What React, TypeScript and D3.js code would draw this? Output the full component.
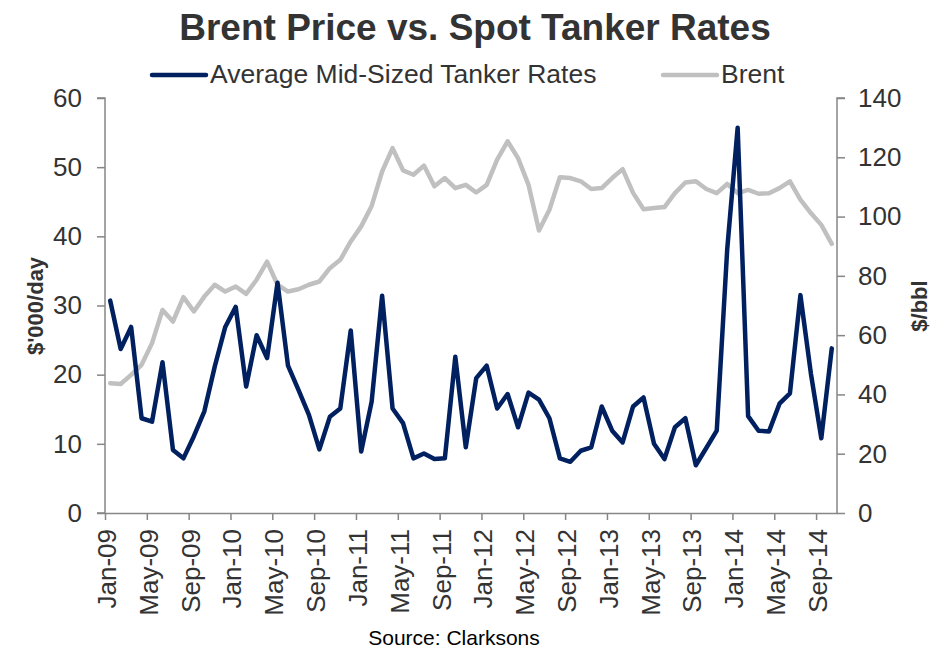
import React, { useEffect, useRef } from 'react';
import * as d3 from 'd3';

// monthly data, Jan-09 .. Oct-14
const tankerRates = [
    30.7, 23.7, 26.9, 13.7, 13.2, 21.8, 9.1, 7.9, 11.1, 14.7, 21.2, 26.9,
    29.8, 18.3, 25.7, 22.4, 33.3, 21.3, 17.8, 14.2, 9.2, 13.9, 15.1, 26.4,
    8.9, 16.1, 31.4, 15.1, 13.0, 7.9, 8.6, 7.8, 7.9, 22.6, 9.5, 19.5,
    21.3, 15.1, 17.2, 12.4, 17.4, 16.4, 13.7, 7.9, 7.4, 9.0, 9.5, 15.4,
    11.9, 10.2, 15.4, 16.7, 10.0, 7.8, 12.4, 13.7, 6.9, 9.4, 11.9, 38.1,
    55.7, 14.0, 11.9, 11.8, 15.8, 17.3, 31.5, 20.2, 10.8, 23.8,
];

const brent = [
    43.8, 43.5, 46.6, 50.0, 57.3, 68.5, 64.6, 72.8, 68.0, 73.0, 77.0, 74.7,
    76.4, 73.9, 78.7, 84.8, 77.0, 74.7, 75.5, 77.0, 78.1, 82.6, 85.4, 91.6,
    96.7, 103.6, 115.2, 123.1, 115.6, 114.1, 117.2, 110.2, 113.0, 109.6, 110.7, 108.1,
    110.7, 119.2, 125.4, 119.7, 110.7, 95.3, 102.3, 113.3, 113.0, 111.9, 109.3, 109.6,
    113.0, 116.0, 108.0, 102.5, 102.9, 103.2, 107.9, 111.5, 111.9, 109.3, 107.9, 111.0,
    107.9, 109.0, 107.7, 107.9, 109.6, 111.9, 105.7, 101.2, 97.2, 90.8,
];

const tickLabels = [
    'Jan-09', 'May-09', 'Sep-09', 'Jan-10', 'May-10', 'Sep-10', 'Jan-11', 'May-11', 'Sep-11',
    'Jan-12', 'May-12', 'Sep-12', 'Jan-13', 'May-13', 'Sep-13', 'Jan-14', 'May-14', 'Sep-14',
];
const monthsPerTick = 4;

const leftTicks = [0, 10, 20, 30, 40, 50, 60];
const rightTicks = [0, 20, 40, 60, 80, 100, 120, 140];

const NAVY = '#002060';
const GREY = '#C0C0C0';
const AXIS = '#868686';
const TEXT = '#333333';
const FONT = '"Liberation Sans", Arial, sans-serif';

const Chart = ({ width, height }) => {
    const chartRef = useRef(null);

    useEffect(() => {
        d3.select(chartRef.current).select('*').remove();

        const svg = d3.select(chartRef.current)
            .append('svg')
            .attr('width', width)
            .attr('height', height)
            .style('display', 'block')
            .style('font-family', FONT);

        const left = 105, right = 837, top = 98, bottom = 513;
        const n = tankerRates.length;

        // a month is a slot, the point sits in its middle
        const x = d3.scaleLinear().domain([0, n]).range([left, right]);
        const yL = d3.scaleLinear().domain([0, 60]).range([bottom, top]);
        const yR = d3.scaleLinear().domain([0, 140]).range([bottom, top]);

        // title
        svg.append('text')
            .attr('x', 475)
            .attr('y', 40)
            .attr('text-anchor', 'middle')
            .attr('font-size', 37)
            .attr('font-weight', 'bold')
            .attr('fill', TEXT)
            .text('Brent Price vs. Spot Tanker Rates');

        // legend
        const legend = [
            { label: 'Average Mid-Sized Tanker Rates', color: NAVY, x: 152 },
            { label: 'Brent', color: GREY, x: 663 },
        ];
        legend.forEach(l => {
            svg.append('line')
                .attr('x1', l.x).attr('x2', l.x + 54)
                .attr('y1', 75).attr('y2', 75)
                .attr('stroke', l.color)
                .attr('stroke-width', 4.5)
                .attr('stroke-linecap', 'round');
            svg.append('text')
                .attr('x', l.x + 58)
                .attr('y', 83)
                .attr('font-size', 26.5)
                .attr('fill', TEXT)
                .text(l.label);
        });

        // left axis
        const gL = svg.append('g').attr('transform', `translate(${left},0)`);
        gL.call(d3.axisLeft(yL).tickValues(leftTicks).tickSize(8).tickPadding(15));
        // right axis
        const gR = svg.append('g').attr('transform', `translate(${right},0)`);
        gR.call(d3.axisRight(yR).tickValues(rightTicks).tickSize(8).tickPadding(13));
        // x axis
        const gX = svg.append('g').attr('transform', `translate(0,${bottom})`);
        gX.call(d3.axisBottom(x)
            .tickValues(tickLabels.map((_, i) => i * monthsPerTick))
            .tickFormat((d, i) => tickLabels[i])
            .tickSize(7)
            .tickSizeOuter(0));

        [gL, gR, gX].forEach(g => {
            g.select('.domain').attr('stroke', AXIS).attr('stroke-width', 1.5);
            g.selectAll('.tick line').attr('stroke', AXIS).attr('stroke-width', 1.5);
            g.selectAll('text')
                .attr('font-size', 26)
                .attr('font-family', FONT)
                .attr('fill', TEXT);
        });
        gL.select('.domain').attr('d', `M-8,${bottom}H0V${top}H-8`);
        gR.select('.domain').attr('d', `M8,${top}H0V${bottom}`);

        gX.selectAll('.tick text')
            .attr('text-anchor', 'end')
            .attr('transform', 'rotate(-90)')
            .attr('x', -16)
            .attr('y', 1)
            .attr('dy', '0.36em');

        // axis titles
        svg.append('text')
            .attr('transform', 'translate(43,306) rotate(-90)')
            .attr('text-anchor', 'middle')
            .attr('font-size', 22)
            .attr('font-weight', 'bold')
            .attr('fill', TEXT)
            .text("$'000/day");
        svg.append('text')
            .attr('transform', 'translate(927,306) rotate(-90)')
            .attr('text-anchor', 'middle')
            .attr('font-size', 22)
            .attr('font-weight', 'bold')
            .attr('fill', TEXT)
            .text('$/bbl');

        // lines
        const brentLine = d3.line()
            .x((d, i) => x(i + 0.5))
            .y(d => yR(d));
        const tankerLine = d3.line()
            .x((d, i) => x(i + 0.5))
            .y(d => yL(d));

        svg.append('path')
            .datum(brent)
            .attr('fill', 'none')
            .attr('stroke', GREY)
            .attr('stroke-width', 4.5)
            .attr('stroke-linejoin', 'round')
            .attr('stroke-linecap', 'round')
            .attr('d', brentLine);

        svg.append('path')
            .datum(tankerRates)
            .attr('fill', 'none')
            .attr('stroke', NAVY)
            .attr('stroke-width', 4.5)
            .attr('stroke-linejoin', 'round')
            .attr('stroke-linecap', 'round')
            .attr('d', tankerLine);

        // source
        svg.append('text')
            .attr('x', 454)
            .attr('y', 645)
            .attr('text-anchor', 'middle')
            .attr('font-size', 21)
            .attr('fill', '#000')
            .text('Source: Clarksons');
    }, [width, height]);

    return <div ref={chartRef}></div>;
};

export default function App() {
    return (
        <div style={{ position: 'absolute', left: 0, top: 0 }}>
            <Chart width={941} height={648} />
        </div>
    );
}
